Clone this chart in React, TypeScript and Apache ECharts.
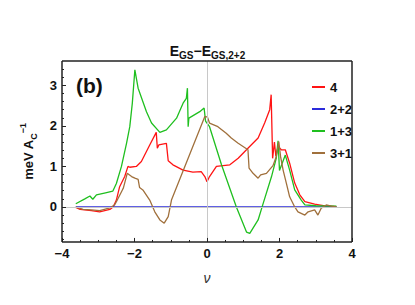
import React, { useEffect, useRef } from "react";
import * as echarts from "echarts";

const seriesNames = ["4", "2+2", "1+3", "3+1"];
const seriesColors = ["#ff1414", "#2b2bdb", "#1fbf1f", "#a0703c"];

const red4: number[][] = [
  [-3.62, -0.01], [-3.5, -0.06], [-3.19, -0.09], [-2.96, -0.12], [-2.82, -0.09],
  [-2.68, -0.06], [-2.59, 0.0], [-2.5, 0.17], [-2.41, 0.5], [-2.27, 0.75],
  [-2.18, 1.0], [-2.13, 0.98], [-1.95, 1.0], [-1.81, 1.12], [-1.58, 1.53],
  [-1.4, 1.84], [-1.37, 1.45], [-1.33, 1.53], [-1.12, 1.57], [-1.07, 1.14],
  [-0.94, 1.04], [-0.66, 0.91], [-0.39, 0.86], [-0.16, 0.87], [-0.06, 0.75],
  [0.0, 0.62], [0.07, 0.75], [0.26, 1.0], [0.63, 1.04], [0.86, 1.2],
  [1.13, 1.45], [1.41, 1.7], [1.59, 2.07], [1.73, 2.4], [1.77, 2.77],
  [1.81, 1.2], [1.86, 1.6], [1.9, 1.25], [1.96, 1.49], [2.05, 1.41],
  [2.16, 1.41], [2.28, 1.08], [2.42, 0.59], [2.56, 0.3], [2.7, 0.13],
  [2.97, 0.07], [3.25, 0.025], [3.57, 0.01],
];

const blue22: number[][] = [
  [-3.62, 0], [3.57, 0],
];

const green13: number[][] = [
  [-3.62, 0.08], [-3.37, 0.2], [-3.23, 0.27], [-3.15, 0.19], [-3.05, 0.3],
  [-2.8, 0.35], [-2.6, 0.39], [-2.5, 0.58], [-2.36, 1.0], [-2.22, 1.57],
  [-2.13, 1.98], [-2.06, 2.56], [-1.99, 3.38], [-1.9, 2.93], [-1.67, 2.35],
  [-1.53, 2.07], [-1.3, 1.84], [-1.12, 1.9], [-0.84, 2.19], [-0.66, 2.56],
  [-0.57, 2.68], [-0.54, 2.93], [-0.52, 1.98], [-0.5, 2.19], [-0.2, 2.35],
  [-0.08, 2.44], [-0.04, 2.12], [0.07, 1.98], [0.4, 1.04], [0.81, 0.0],
  [1.09, -0.62], [1.18, -0.65], [1.41, -0.32], [1.55, 0.09], [1.78, 0.75],
  [1.91, 1.2], [1.96, 1.63], [2.0, 0.9], [2.16, 1.28], [2.28, 0.91],
  [2.42, 0.42], [2.6, 0.17], [2.7, 0.05], [3.0, 0.03], [3.57, 0.02],
];

const brown31: number[][] = [
  [-3.62, 0.0], [-3.42, -0.06], [-3.19, -0.07], [-2.96, -0.09], [-2.68, -0.02],
  [-2.55, 0.05], [-2.5, 0.13], [-2.31, 0.46], [-2.2, 0.83], [-2.08, 0.75],
  [-1.99, 0.71], [-1.9, 0.68], [-1.86, 0.48], [-1.77, 0.42], [-1.58, 0.17],
  [-1.44, -0.12], [-1.3, -0.32], [-1.18, -0.4], [-1.07, -0.24], [-0.98, 0.17],
  [-0.06, 2.23], [0.01, 2.22], [0.07, 2.07], [0.3, 1.98], [0.53, 1.82],
  [0.67, 1.7], [0.86, 1.57], [1.13, 1.41], [1.16, 0.96], [1.27, 0.83],
  [1.41, 0.71], [1.48, 0.79], [1.64, 0.83], [1.82, 1.02], [1.91, 1.24],
  [1.98, 1.61], [2.03, 1.24], [2.1, 0.91], [2.19, 0.58], [2.28, 0.25],
  [2.42, 0.0], [2.51, -0.12], [2.7, -0.2], [2.79, -0.12], [2.97, -0.07],
  [3.06, -0.2], [3.15, -0.03], [3.29, 0.05], [3.43, 0.02], [3.57, 0.0],
];

const yMajorTicks = [0, 1, 2, 3];
const yMinorTicks = [
  -0.8, -0.6, -0.4, -0.2, 0.2, 0.4, 0.6, 0.8, 1.2, 1.4, 1.6, 1.8,
  2.2, 2.4, 2.6, 2.8, 3.2, 3.4,
];
const xMajorTicks = [-4, -2, 0, 2, 4];
const xMinorTicks = [-3.5, -3, -2.5, -1.5, -1, -0.5, 0.5, 1, 1.5, 2.5, 3, 3.5];
const xMin = -4;
const xMax = 4;
const xInterval = 2;
const yMin = -0.864;
const yMax = 3.6;

const FONT = "Liberation Sans, Arial, sans-serif";

// tick lengths expressed in axis units (about 4 px and 2 px)
const X_TICK_MAJOR = 0.1;
const X_TICK_MINOR = 0.05;
const Y_TICK_MAJOR = 0.11;
const Y_TICK_MINOR = 0.055;

function fmtMinus(v: number) {
  return v < 0 ? "\u2212" + String(-v) : String(v);
}

function seg(x1: number, y1: number, x2: number, y2: number, width: number) {
  return [
    { coord: [x1, y1], lineStyle: { color: "#222", width, type: "solid" } },
    { coord: [x2, y2] },
  ];
}

export default function App() {
  const ref = useRef<HTMLDivElement>(null);
  useEffect(() => {
    if (!ref.current) return;
    const chart = echarts.init(ref.current, undefined, { renderer: "svg" });
    const datasets = [red4, blue22, green13, brown31];

    const frameLines: any[] = [
      seg(xMin, yMin, xMax, yMin, 1.5),
      seg(xMin, yMax, xMax, yMax, 1.5),
      seg(xMin, yMin, xMin, yMax, 1.5),
      seg(xMax, yMin, xMax, yMax, 1.5),
    ];
    xMajorTicks.forEach((v) => frameLines.push(seg(v, yMin, v, yMin + X_TICK_MAJOR, 1)));
    xMinorTicks.forEach((v) => frameLines.push(seg(v, yMin, v, yMin + X_TICK_MINOR, 1)));
    yMajorTicks.forEach((v) => frameLines.push(seg(xMin, v, xMin + Y_TICK_MAJOR, v, 1)));
    yMinorTicks.forEach((v) => frameLines.push(seg(xMin, v, xMin + Y_TICK_MINOR, v, 1)));

    chart.setOption({
      animation: false,
      backgroundColor: "#ffffff",
      title: {
        text: "{e|E}{s|GS}{e|\u2212E}{s|GS,2+2}",
        left: "center",
        top: 37,
        textStyle: {
          rich: {
            e: { fontFamily: FONT, fontWeight: "bold", fontSize: 14, color: "#111", lineHeight: 18, verticalAlign: "middle" },
            s: { fontFamily: FONT, fontWeight: "bold", fontSize: 10, color: "#111", lineHeight: 10, verticalAlign: "bottom" },
          },
        },
      },
      grid: { left: 62, right: 63, top: 61, bottom: 63 },
      legend: {
        orient: "vertical",
        left: 307,
        top: 75,
        icon: "rect",
        itemWidth: 13,
        itemHeight: 2,
        itemGap: 8,
        data: seriesNames,
        textStyle: { fontFamily: FONT, fontWeight: "bold", fontSize: 13, color: "#111", lineHeight: 14 },
      },
      xAxis: {
        type: "value",
        min: xMin,
        max: xMax,
        interval: xInterval,
        name: "\u03bd",
        nameLocation: "middle",
        nameGap: 29,
        nameTextStyle: { fontFamily: FONT, fontStyle: "italic", fontSize: 14, color: "#333" },
        axisLine: { show: false, onZero: false },
        axisTick: { show: false },
        splitLine: { show: false },
        axisLabel: {
          fontFamily: FONT, fontWeight: "bold", fontSize: 13, color: "#111", margin: 5,
          formatter: (v: number) => fmtMinus(v),
        },
      },
      yAxis: {
        type: "value",
        min: yMin,
        max: yMax,
        name: "{a|meV A}{sub|C}{sup|\u22121}",
        nameLocation: "middle",
        nameGap: 22,
        nameRotate: 90,
        nameTextStyle: {
          rich: {
            a: { fontFamily: FONT, fontWeight: "bold", fontSize: 13, color: "#111", lineHeight: 20, verticalAlign: "middle" },
            sub: { fontFamily: FONT, fontWeight: "bold", fontSize: 9, color: "#111", lineHeight: 10, verticalAlign: "bottom" },
            sup: { fontFamily: FONT, fontWeight: "bold", fontSize: 9, color: "#111", lineHeight: 10, verticalAlign: "top" },
          },
        },
        axisLine: { show: false, onZero: false },
        axisTick: { show: false },
        splitLine: { show: false },
        axisLabel: {
          customValues: yMajorTicks,
          fontFamily: FONT, fontWeight: "bold", fontSize: 13, color: "#111", margin: 5,
          formatter: (v: number) => fmtMinus(v),
        },
      },
      graphic: [
        {
          type: "text",
          left: 76,
          top: 75,
          z: 50,
          style: { text: "(b)", fontFamily: FONT, fontWeight: "bold", fontSize: 21, fill: "#111" },
        },
      ],
      series: [
        {
          type: "line",
          name: "_guides",
          data: [],
          z: 1,
          markLine: {
            symbol: "none",
            label: { show: false },
            lineStyle: { color: "#c8c8c8", width: 1, type: "solid" },
            data: [{ xAxis: 0 }, { yAxis: 0 }],
          },
        },
        ...seriesNames.map((n, i) => ({
          type: "line",
          name: n,
          data: datasets[i],
          showSymbol: false,
          color: seriesColors[i],
          lineStyle: { color: seriesColors[i], width: 1.3 },
        })),
        {
          type: "line",
          name: "_frame",
          data: [],
          z: 5,
          clip: false,
          markLine: {
            silent: true,
            symbol: ["none", "none"],
            label: { show: false },
            emphasis: { disabled: true },
            lineStyle: { color: "#222", width: 1, type: "solid" },
            data: frameLines,
          },
        },
      ],
    });
    return () => chart.dispose();
  }, []);
  return (
    <div
      ref={ref}
      style={{ position: "absolute", left: 0, top: 0, width: 415, height: 305 }}
    />
  );
}
